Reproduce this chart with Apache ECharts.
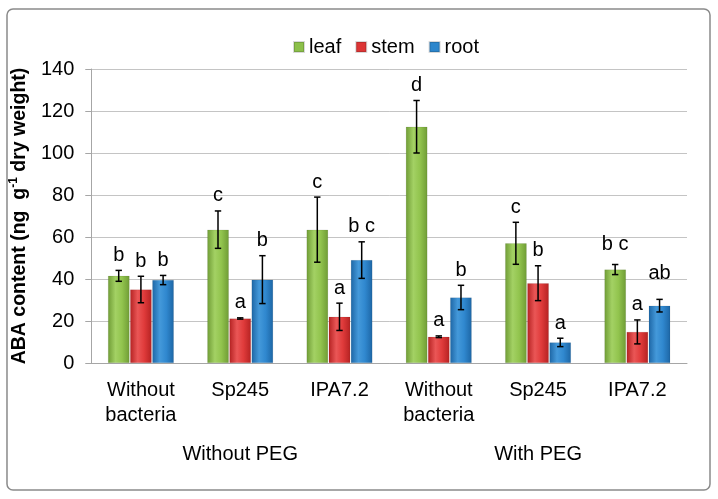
<!DOCTYPE html>
<html>
<head>
<meta charset="utf-8">
<script src="https://cdn.jsdelivr.net/npm/echarts@6/dist/echarts.min.js"></script>
<style>
  html, body { margin: 0; padding: 0; background: #fff; }
  #chart { width: 718px; height: 499px; }
</style>
</head>
<body>
<div id="chart"></div>
<script>
// treatments along the x axis, grouped by PEG
var categories = ['Without\nbacteria', 'Sp245', 'IPA7.2', 'Without\nbacteria', 'Sp245', 'IPA7.2'];
var groups = ['Without PEG', 'With PEG'];
var seriesNames = ['leaf', 'stem', 'root'];

var leaf = [41.5, 63.5, 63.5, 112.5, 57, 44.5];
var stem = [35, 21.2, 22, 12.5, 38, 14.8];
var root = [39.5, 39.7, 49, 31.2, 9.8, 27.3];

// +/- error
var leafErr = [2.6, 8.9, 15.5, 12.5, 10, 2.4];
var stemErr = [6.3, 0.3, 6.5, 0.4, 8.3, 5.7];
var rootErr = [2.2, 11.4, 8.7, 5.8, 2, 3];

var leafLetters = ['b', 'c', 'c', 'd', 'c', 'b c'];
var stemLetters = ['b', 'a', 'a', 'a', 'b', 'a'];
var rootLetters = ['b', 'b', 'b c', 'b', 'a', 'ab'];

var yTicks = [0, 20, 40, 60, 80, 100, 120, 140];

var FONT = 'Liberation Sans, Arial, sans-serif';
var BAR_W = 21.5;
var BAR_STEP = 22.2;

function grad(edge, mid, hi) {
    return new echarts.graphic.LinearGradient(0, 0, 1, 0, [
        { offset: 0, color: edge },
        { offset: 0.35, color: hi },
        { offset: 0.65, color: mid },
        { offset: 1, color: edge }
    ]);
}
var fills = [
    grad('#6f9c35', '#92c44e', '#a3d164'),
    grad('#b52222', '#e03b3b', '#ea5656'),
    grad('#1d66a5', '#3088cf', '#4499da')
];
var plain = ['#8cc04a', '#dd3535', '#2c86cc'];

var values = [leaf, stem, root];
var errs = [leafErr, stemErr, rootErr];
var letters = [leafLetters, stemLetters, rootLetters];

var errData = [];
for (var s = 0; s < 3; s++) {
    for (var i = 0; i < categories.length; i++) {
        errData.push([i, values[s][i] - errs[s][i], values[s][i] + errs[s][i], s, letters[s][i]]);
    }
}

var chart = echarts.init(document.getElementById('chart'));

var barSeries = seriesNames.map(function (n, k) {
    return {
        name: n,
        type: 'bar',
        data: values[k],
        barWidth: BAR_W,
        barGap: '3%',
        itemStyle: { color: fills[k], borderColor: 'rgba(0,0,0,0.15)', borderWidth: 0.5 }
    };
});

var option = {
    animation: false,
    textStyle: { fontFamily: FONT },
    graphic: [{
        type: 'rect',
        shape: { x: 7, y: 9, width: 703, height: 481, r: 6 },
        style: { fill: 'none', stroke: '#8a8a8a', lineWidth: 1.5 },
        z: -1
    }],
    legend: {
        data: seriesNames.map(function (n, k) {
            return { name: n, itemStyle: { color: plain[k] } };
        }),
        left: 288,
        top: 32,
        icon: 'rect',
        itemWidth: 10,
        itemHeight: 10,
        itemGap: 14,
        textStyle: { fontSize: 20, color: '#000', fontFamily: FONT }
    },
    grid: { left: 88, right: 31, top: 69, bottom: 136 },
    xAxis: [{
        type: 'category',
        data: categories,
        axisLine: { lineStyle: { color: '#a6a6a6' } },
        axisTick: { interval: 0, length: 63, lineStyle: { color: '#bdbdbd' } },
        axisLabel: { interval: 0, margin: 15, fontSize: 20, lineHeight: 25, color: '#000', fontFamily: FONT }
    }, {
        type: 'category',
        data: groups,
        position: 'bottom',
        axisLine: { show: false },
        axisTick: { interval: 0, length: 104, lineStyle: { color: '#bdbdbd' } },
        axisLabel: { interval: 0, margin: 79, fontSize: 20, lineHeight: 25, color: '#000', fontFamily: FONT }
    }],
    yAxis: {
        type: 'value',
        min: yTicks[0],
        max: yTicks[yTicks.length - 1],
        interval: 20,
        name: '{a|ABA content (ng  g}{s|-1}{a| dry weight)}',
        nameLocation: 'middle',
        nameGap: 54,
        nameTextStyle: {
            rich: {
                a: { fontSize: 19.5, fontWeight: 'bold', color: '#000', fontFamily: FONT, lineHeight: 24 },
                s: { fontSize: 12, fontWeight: 'bold', color: '#000', fontFamily: FONT, verticalAlign: 'top', lineHeight: 24 }
            }
        },
        axisLine: { show: true, lineStyle: { color: '#a6a6a6' } },
        axisTick: { show: true, length: 6, lineStyle: { color: '#a6a6a6' } },
        axisLabel: { fontSize: 20, color: '#000', margin: 17, fontFamily: FONT },
        splitLine: { lineStyle: { color: '#c4c4c4' } }
    },
    series: barSeries.concat([{
        type: 'custom',
        name: 'err',
        data: errData,
        z: 10,
        renderItem: function (params, api) {
            var cat = api.value(0), s = api.value(3);
            var dx = (s - 1) * BAR_STEP;
            var lo = api.coord([cat, api.value(1)]);
            var hi = api.coord([cat, api.value(2)]);
            var x = lo[0] + dx;
            var cap = 3.2;
            var txt = errData[params.dataIndex][4];
            var gap = txt === 'ab' ? 16 : (txt === 'b c' && s === 0 ? 10 : 5);
            var st = { stroke: '#000', lineWidth: 1.5 };
            return {
                type: 'group',
                children: [
                    { type: 'line', shape: { x1: x, y1: lo[1], x2: x, y2: hi[1] }, style: st },
                    { type: 'line', shape: { x1: x - cap, y1: lo[1], x2: x + cap, y2: lo[1] }, style: st },
                    { type: 'line', shape: { x1: x - cap, y1: hi[1], x2: x + cap, y2: hi[1] }, style: st },
                    { type: 'text', style: { text: txt, x: x, y: hi[1] - gap, align: 'center', verticalAlign: 'bottom',
                        fontSize: 20, fontFamily: FONT, fill: '#000' } }
                ]
            };
        }
    }])
};

chart.setOption(option);
</script>
</body>
</html>
